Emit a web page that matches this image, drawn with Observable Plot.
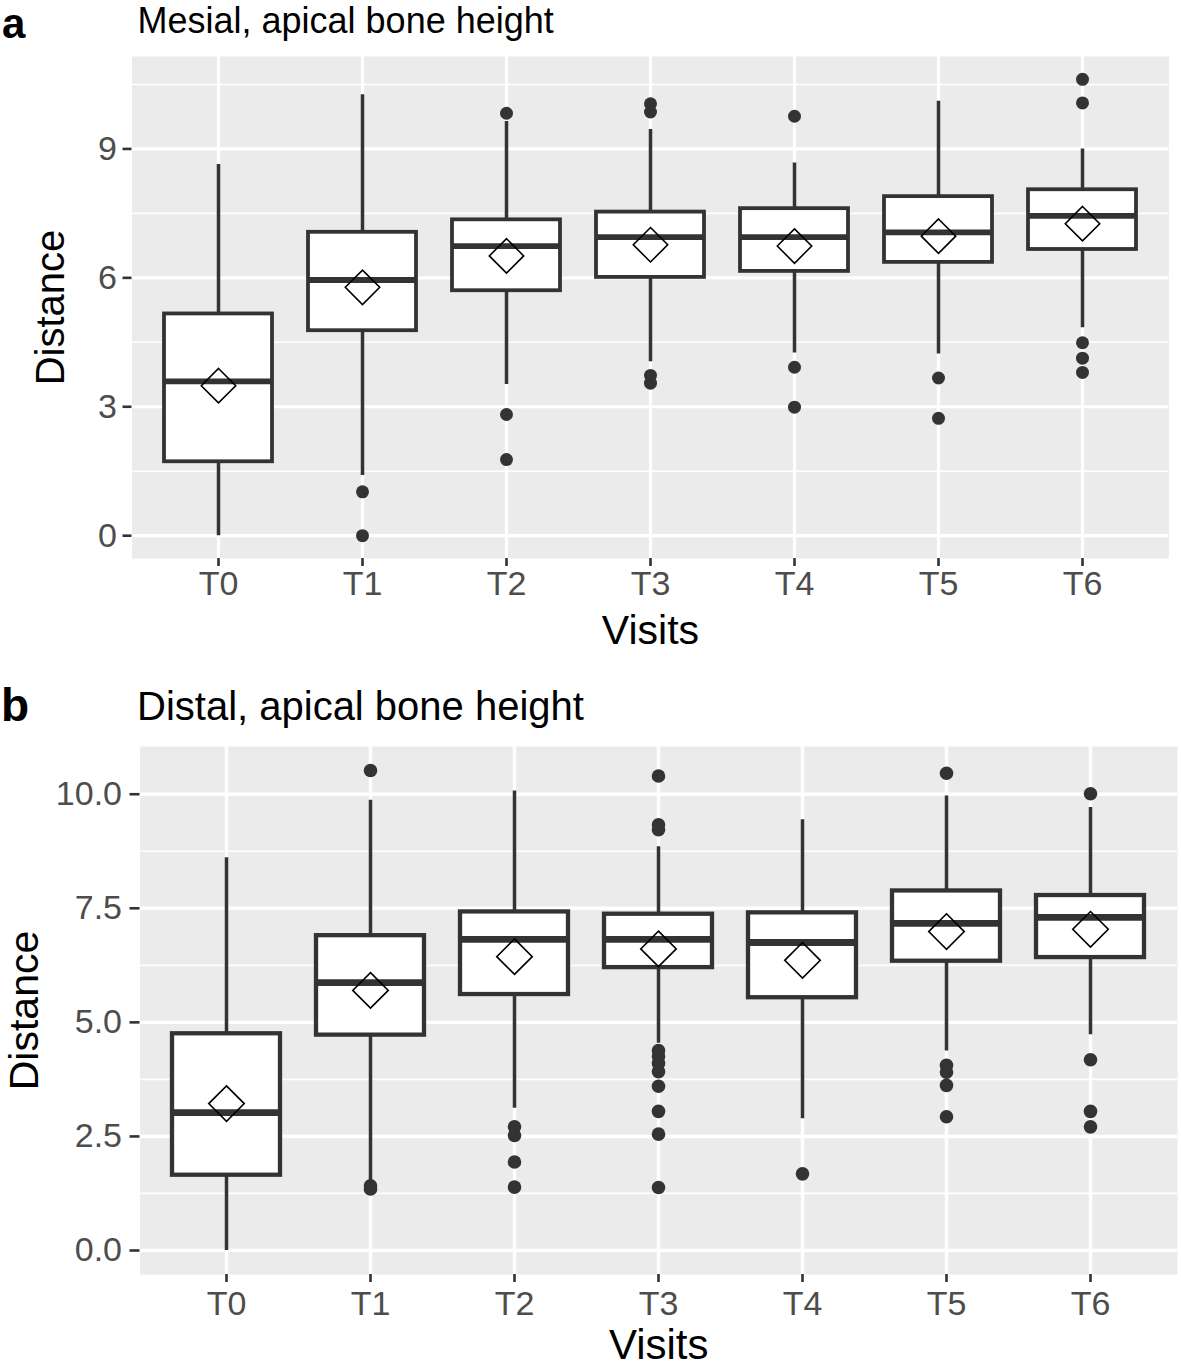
<!DOCTYPE html>
<html>
<head>
<meta charset="utf-8">
<script src="https://cdn.jsdelivr.net/npm/d3@7"></script>
<script src="https://cdn.jsdelivr.net/npm/@observablehq/plot@0.6"></script>
<style>
html, body { margin: 0; padding: 0; background: #fff; }
#wrap { position: relative; width: 1181px; height: 1366px; overflow: hidden;
  font-family: "Liberation Sans", Arial, Helvetica, sans-serif; }
.lbl { position: absolute; white-space: nowrap; color: #000; }
.plot { position: absolute; left: 0; }
.pa g[aria-label="x-axis label"], .pa g[aria-label="x-axis label"] text { font-size: 41px; fill: #000; }
.pa g[aria-label="y-axis label"], .pa g[aria-label="y-axis label"] text { font-size: 40px; fill: #000; }
.pb g[aria-label="x-axis label"], .pb g[aria-label="x-axis label"] text { font-size: 42px; fill: #000; }
.pb g[aria-label="y-axis label"], .pb g[aria-label="y-axis label"] text { font-size: 41px; fill: #000; }
</style>
</head>
<body>
<div id="wrap"></div>
<script>
// ---------- data ----------
const visits = ["T0", "T1", "T2", "T3", "T4", "T5", "T6"];

// Panel a: Mesial, apical bone height
const mesialLower  = [0.00, 1.40, 3.52, 4.05, 4.25, 4.23, 4.84];
const mesialQ1     = [1.72, 4.77, 5.70, 6.01, 6.15, 6.36, 6.66];
const mesialMedian = [3.59, 5.95, 6.74, 6.95, 6.95, 7.06, 7.44];
const mesialQ3     = [5.16, 7.06, 7.35, 7.53, 7.61, 7.89, 8.05];
const mesialUpper  = [8.64, 10.26, 9.64, 9.45, 8.67, 10.11, 9.00];
const mesialMean   = [3.49, 5.78, 6.51, 6.77, 6.74, 6.97, 7.26];
const mesialOutliers = [
  [],
  [1.02, 0.00],
  [9.83, 2.82, 1.77],
  [10.05, 9.86, 3.73, 3.55],
  [9.76, 3.92, 2.99],
  [3.67, 2.73],
  [10.62, 10.07, 4.49, 4.13, 3.80]
];
const mesialMajor = [0, 3, 6, 9];
const mesialMinor = [1.5, 4.5, 7.5, 10.5];

// Panel b: Distal, apical bone height
const distalLower  = [0.00, 1.50, 3.12, 4.54, 2.89, 4.37, 4.73];
const distalQ1     = [1.65, 4.72, 5.61, 6.20, 5.54, 6.34, 6.42];
const distalMedian = [3.02, 5.87, 6.82, 6.82, 6.75, 7.17, 7.30];
const distalQ3     = [4.75, 6.90, 7.42, 7.37, 7.40, 7.88, 7.78];
const distalUpper  = [8.61, 9.87, 10.07, 8.85, 9.44, 9.96, 9.71];
const distalMean   = [3.22, 5.70, 6.44, 6.61, 6.36, 6.99, 7.04];
const distalOutliers = [
  [],
  [10.52, 1.42, 1.35],
  [2.71, 2.52, 1.94, 1.39],
  [10.40, 9.33, 9.22, 4.38, 4.25, 4.10, 3.92, 3.60, 3.05, 2.55, 1.38],
  [1.68],
  [10.46, 4.06, 3.91, 3.62, 2.93],
  [10.01, 4.18, 3.05, 2.71]
];
const distalMajor = [0, 2.5, 5, 7.5, 10];
const distalMinor = [1.25, 3.75, 6.25, 8.75];

// ---------- drawing ----------
const FONT = '"Liberation Sans", Arial, Helvetica, sans-serif';

function panel(d, s) {
  const rows = visits.map((v, i) => ({
    visit: v, lo: d.lo[i], q1: d.q1[i], med: d.med[i], q3: d.q3[i], hi: d.hi[i], mean: d.mean[i]
  }));
  const pts = visits.flatMap((v, i) => d.out[i].map(y => ({visit: v, y})));
  const all = [...d.lo, ...d.hi, ...d.out.flat()];
  const [mn, mx] = d3.extent(all);
  const pad = (mx - mn) * 0.05;
  return Plot.plot({
    width: 1181,
    height: s.height,
    marginTop: s.mt, marginBottom: s.mb, marginLeft: s.ml, marginRight: s.mr,
    className: s.cls,
    style: {fontFamily: FONT, background: "transparent", overflow: "visible"},
    x: {type: "band", domain: visits, paddingInner: 0.25, paddingOuter: 0.225, align: 0.5},
    y: {domain: [mn - pad, mx + pad]},
    marks: [
      Plot.frame({fill: "#EBEBEB", stroke: "none"}),
      Plot.gridY(d.minor, {stroke: "#fff", strokeOpacity: 1, strokeWidth: s.minorW}),
      Plot.gridY(d.major, {stroke: "#fff", strokeOpacity: 1, strokeWidth: s.majorW}),
      Plot.gridX({stroke: "#fff", strokeOpacity: 1, strokeWidth: s.majorW}),
      Plot.axisY(d.major, {
        tickSize: s.yTick, tickPadding: s.yPad, fontSize: s.tickFont,
        tickFormat: s.fmt, stroke: "#333333", strokeWidth: 2.6, fill: "#4D4D4D",
        label: "Distance", labelAnchor: "center", labelOffset: s.yLabOff, labelArrow: false
      }),
      Plot.axisX({
        tickSize: s.xTick, tickPadding: s.xPad, fontSize: s.tickFont,
        stroke: "#333333", strokeWidth: 2.6, fill: "#4D4D4D",
        label: "Visits", labelAnchor: "center", labelOffset: s.xLabOff, labelArrow: false
      }),
      Plot.ruleX(rows, {x: "visit", y1: "lo", y2: "hi", stroke: "#333333", strokeWidth: s.whiskW}),
      Plot.barY(rows, {x: "visit", y1: "q1", y2: "q3", fill: "#fff", stroke: "#333333", strokeWidth: s.boxW}),
      Plot.tickY(rows, {x: "visit", y: "med", stroke: "#333333", strokeWidth: s.medW}),
      Plot.dot(pts, {x: "visit", y: "y", r: s.outR, fill: "#333333", stroke: "none"}),
      Plot.dot(rows, {x: "visit", y: "mean", symbol: "diamond2", r: s.meanR, stroke: "#000", strokeWidth: 1.6, fill: "none"})
    ]
  });
}

const wrap = document.getElementById("wrap");

const plotA = panel(
  {lo: mesialLower, q1: mesialQ1, med: mesialMedian, q3: mesialQ3, hi: mesialUpper,
   mean: mesialMean, out: mesialOutliers, major: mesialMajor, minor: mesialMinor},
  {cls: "pa", height: 680, mt: 56, mb: 122, ml: 131.5, mr: 12.6,
   tickFont: 34, fmt: d3.format("d"), yTick: 9, yPad: 6, xTick: 8, xPad: 4,
   yLabOff: 96.5, xLabOff: 85, minorW: 1.6, majorW: 3.2,
   whiskW: 3.5, boxW: 3.8, medW: 5.8, outR: 6.5, meanR: 15.5}
);
plotA.classList.add("plot");
plotA.style.top = "0px";
wrap.appendChild(plotA);

const plotB = panel(
  {lo: distalLower, q1: distalQ1, med: distalMedian, q3: distalQ3, hi: distalUpper,
   mean: distalMean, out: distalOutliers, major: distalMajor, minor: distalMinor},
  {cls: "pb", height: 686, mt: 66, mb: 92, ml: 139.5, mr: 4,
   tickFont: 34, fmt: d3.format(".1f"), yTick: 10, yPad: 8, xTick: 8, xPad: 8,
   yLabOff: 131, xLabOff: 84, minorW: 1.7, majorW: 3.4,
   whiskW: 3.5, boxW: 4.3, medW: 6.8, outR: 6.8, meanR: 16}
);
plotB.classList.add("plot");
plotB.style.top = "680px";
wrap.appendChild(plotB);

// titles and panel letters (baseline placed via line-height)
function label(text, left, baseline, size, weight) {
  const el = document.createElement("div");
  el.className = "lbl";
  el.textContent = text;
  // line box tall enough to hold ascent + descent, baseline at requested y
  const lh = Math.round(size * 1.15);
  const half = (lh - 1.117 * size) / 2;
  el.style.lineHeight = lh + "px";
  el.style.left = left + "px";
  el.style.top = Math.max(0, baseline - half - 0.905 * size) + "px";
  el.style.fontSize = size + "px";
  el.style.fontWeight = weight || "normal";
  wrap.appendChild(el);
}
label("a", 2, 34, 42, "bold");
label("Mesial, apical bone height", 137.5, 30, 36);
label("b", 1, 721, 46, "bold");
label("Distal, apical bone height", 137, 720, 40);
</script>
</body>
</html>
